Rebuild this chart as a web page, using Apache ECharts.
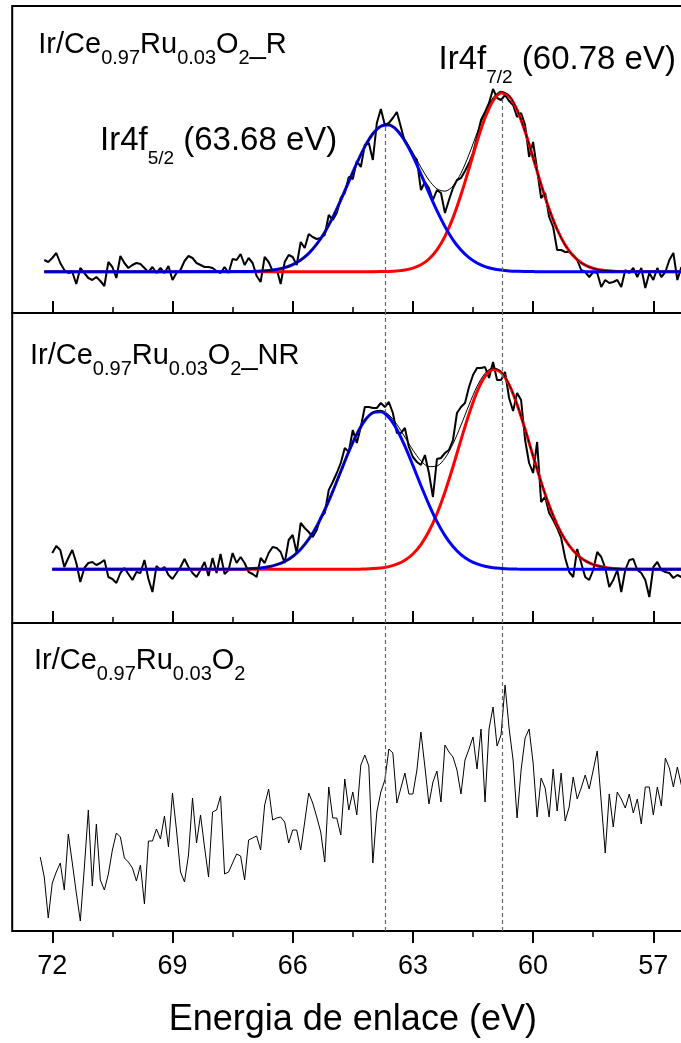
<!DOCTYPE html>
<html>
<head>
<meta charset="utf-8">
<script src="https://cdn.jsdelivr.net/npm/echarts@6/dist/echarts.min.js"></script>
<style>
  html, body { margin: 0; padding: 0; background: #fff; overflow: hidden; }
  /* the frames run past the right edge of the page, so the canvas is wider than the view */
  #chart { width: 700px; height: 1043px; }
</style>
</head>
<body>
<div id="chart"></div>
<script>
// Binding energy grid of the measured spectra (eV), 0.1 eV steps
const energy = [
  72.3,72.2,72.1,72.0,71.9,71.8,71.7,71.6,71.5,71.4,
  71.3,71.2,71.1,71.0,70.9,70.8,70.7,70.6,70.5,70.4,
  70.3,70.2,70.1,70.0,69.9,69.8,69.7,69.6,69.5,69.4,
  69.3,69.2,69.1,69.0,68.9,68.8,68.7,68.6,68.5,68.4,
  68.3,68.2,68.1,68.0,67.9,67.8,67.7,67.6,67.5,67.4,
  67.3,67.2,67.1,67.0,66.9,66.8,66.7,66.6,66.5,66.4,
  66.3,66.2,66.1,66.0,65.9,65.8,65.7,65.6,65.5,65.4,
  65.3,65.2,65.1,65.0,64.9,64.8,64.7,64.6,64.5,64.4,
  64.3,64.2,64.1,64.0,63.9,63.8,63.7,63.6,63.5,63.4,
  63.3,63.2,63.1,63.0,62.9,62.8,62.7,62.6,62.5,62.4,
  62.3,62.2,62.1,62.0,61.9,61.8,61.7,61.6,61.5,61.4,
  61.3,61.2,61.1,61.0,60.9,60.8,60.7,60.6,60.5,60.4,
  60.3,60.2,60.1,60.0,59.9,59.8,59.7,59.6,59.5,59.4,
  59.3,59.2,59.1,59.0,58.9,58.8,58.7,58.6,58.5,58.4,
  58.3,58.2,58.1,58.0,57.9,57.8,57.7,57.6,57.5,57.4,
  57.3,57.2,57.1,57.0,56.9,56.8,56.7,56.6,56.5,56.4,
  56.3
];

// Ir 4f intensity (a.u.), reduced sample
const spectrumR = [
  null,53,51,55,60,50,43,40,41,29,
  45,40,35,33,36,32,27,51,46,35,
  57,50,45,48,50,49,45,41,46,40,
  45,40,47,33,40,43,52,57,55,50,
  48,46,46,45,42,40,46,40,54,53,
  59,48,55,50,37,31,56,51,42,44,
  29,51,58,56,48,71,65,79,76,74,
  75,78,98,93,100,115,120,136,134,152,
  146,168,170,153,190,204,188,190,195,201,
  186,171,165,158,153,123,131,125,113,123,
  120,100,113,125,133,135,142,150,160,176,
  193,201,210,224,215,213,218,212,208,196,
  200,188,156,171,143,115,120,96,86,63,
  63,61,61,58,53,43,41,36,41,40,
  26,33,30,31,33,26,43,40,45,36,
  45,25,40,33,45,36,41,53,60,33,
  46
];

// Ir 4f intensity (a.u.), non-reduced sample
const spectrumNR = [
  null,null,null,70,77,73,56,65,73,60,
  41,55,60,61,58,60,63,46,44,40,
  50,55,49,43,51,50,63,44,31,57,
  53,56,48,44,50,56,64,56,50,46,
  53,61,47,65,50,69,49,53,70,60,
  66,60,51,49,46,65,60,70,76,75,
  71,60,83,88,70,100,95,91,86,93,
  106,110,133,141,150,160,175,171,193,180,
  196,216,216,215,215,220,216,221,210,190,
  190,195,176,166,161,158,168,150,126,164,
  165,170,173,183,210,216,220,236,248,255,
  255,256,245,261,243,243,251,225,212,230,
  223,183,160,150,181,121,126,110,103,95,
  85,65,51,46,74,60,46,43,53,71,
  66,55,36,43,53,31,53,63,64,53,
  50,43,26,56,61,53,51,50,45,48,
  46
];

// Ir 4f intensity (a.u.), fresh sample
const spectrumFresh = [
  74,54,13,48,59,68,41,97,68,38,
  10,63,121,45,107,51,41,57,81,98,
  94,73,69,63,50,66,27,90,90,102,
  92,115,84,138,101,59,49,76,133,88,
  116,84,54,119,121,135,57,59,68,77,
  75,51,91,93,95,81,126,142,111,113,
  114,109,88,101,101,81,109,138,128,114,
  99,69,144,113,113,96,152,121,139,116,
  166,176,165,68,119,139,151,182,178,128,
  143,158,137,137,161,199,164,127,149,160,
  129,186,179,174,161,137,171,182,194,162,
  202,129,202,224,185,196,246,203,171,113,
  161,193,202,168,114,153,143,114,162,120,
  158,110,124,154,132,143,156,142,161,180,
  129,78,137,104,139,132,123,137,118,132,
  107,144,144,116,144,125,173,163,144,164,
  146
];

// Energies at which the fitted components are tabulated
const fitEnergyR = [72.2,
  67.2,67.0,66.8,66.6,66.4,66.2,66.0,65.8,65.6,65.4,65.2,65.0,64.8,64.6,64.4,64.2,
  64.0,63.8,63.6,63.4,63.2,63.0,62.8,62.6,62.4,62.2,62.0,61.8,61.6,61.4,61.2,61.0,
  60.8,60.6,60.4,60.2,60.0,59.8,59.6,59.4,59.2,59.0,58.8,58.6,58.4,58.2,58.0,57.8,
  56.0];
const fitEnergyNR = [72.0,
  67.2,67.0,66.8,66.6,66.4,66.2,66.0,65.8,65.6,65.4,65.2,65.0,64.8,64.6,64.4,64.2,
  64.0,63.8,63.6,63.4,63.2,63.0,62.8,62.6,62.4,62.2,62.0,61.8,61.6,61.4,61.2,61.0,
  60.8,60.6,60.4,60.2,60.0,59.8,59.6,59.4,59.2,59.0,58.8,58.6,58.4,58.2,58.0,57.8,
  56.0];

// Fitted Ir4f5/2 and Ir4f7/2 components and their sum, reduced sample
const f52R = [41.3,
  41.4,41.6,41.9,42.5,43.6,45.4,48.4,52.9,59.6,68.8,80.8,95.6,112.9,131.4,149.8,166.4,
  179.2,186.7,188.0,182.9,172.0,156.8,138.9,120.2,102.3,86.4,73.2,62.9,55.3,50.0,46.4,44.2,
  42.9,42.1,41.7,41.5,41.4,41.3,41.3,41.3,41.3,41.3,41.3,41.3,41.3,41.3,41.3,41.3,
  41.3];
const f72R = [41.3,
  41.3,41.3,41.3,41.3,41.3,41.3,41.3,41.3,41.3,41.3,41.3,41.3,41.3,41.3,41.3,41.3,
  41.3,41.4,41.6,42.1,43.0,44.9,48.2,54.0,63.2,76.7,95.1,118.2,144.4,171.3,195.2,212.4,
  220.1,216.8,203.1,181.4,155.3,128.4,103.9,83.5,68.0,57.2,50.2,46.0,43.6,42.4,41.8,41.5,
  41.3];
const envR = [41.3,
  41.4,41.6,41.9,42.5,43.6,45.4,48.4,52.9,59.6,68.8,80.8,95.6,112.9,131.4,149.8,166.4,
  179.2,186.8,188.3,183.7,173.7,160.4,145.8,132.9,124.2,121.8,127.0,139.8,158.4,180.0,200.3,215.3,
  221.7,217.6,203.5,181.6,155.4,128.4,103.9,83.5,68.0,57.2,50.2,46.0,43.6,42.4,41.8,41.5,
  41.3];

// Fitted components and their sum, non-reduced sample
const f52NR = [53.7,
  54.0,54.4,55.1,56.2,58.3,61.5,66.5,73.8,83.8,96.9,113.0,131.6,151.5,171.3,188.9,202.5,
  210.2,211.3,205.4,193.5,176.9,157.6,137.5,118.4,101.4,87.4,76.5,68.4,62.8,59.1,56.7,55.3,
  54.6,54.1,53.9,53.8,53.7,53.7,53.7,53.7,53.7,53.7,53.7,53.7,53.7,53.7,53.7,53.7,
  53.7];
const f72NR = [53.7,
  53.7,53.7,53.7,53.7,53.7,53.7,53.7,53.7,53.7,53.7,53.7,53.7,53.7,53.7,53.7,54.0,
  54.4,55.1,56.4,58.8,62.7,69.0,78.4,91.7,109.3,131.1,156.3,183.1,209.0,231.2,246.7,253.5,
  250.6,238.3,218.5,193.7,166.9,140.9,117.6,98.2,83.3,72.4,64.9,60.1,57.2,55.5,54.6,54.1,
  53.7];
const envNR = [53.7,
  54.0,54.4,55.1,56.2,58.3,61.5,66.5,73.8,83.8,96.9,113.0,131.6,151.5,171.3,188.9,202.8,
  210.9,212.7,208.1,198.6,185.9,172.9,162.2,156.4,157.0,164.8,179.1,197.8,218.1,236.6,249.7,255.1,
  251.5,238.7,218.7,193.8,166.9,140.9,117.6,98.2,83.3,72.4,64.9,60.1,57.2,55.5,54.6,54.1,
  53.7];

// Axis ticks (eV)
const majorTicks = [72, 69, 66, 63, 60, 57];
const minorTicks = [70.5, 67.5, 64.5, 61.5, 58.5];

// Peak positions marked by dashed guides, and where the guides stop in the top panel
const peakEnergies = [63.68, 60.78];
const guideTopR = [186, 217];

const FONT = 'Arial, "Liberation Sans", Helvetica, sans-serif';

function pairs(xs, ys) {
  const out = [];
  for (let i = 0; i < xs.length; i++) {
    if (ys[i] !== null && ys[i] !== undefined) out.push([xs[i], ys[i]]);
  }
  return out;
}

// Panel layout: three stacked frames sharing the energy axis
const panels = [
  { top: 6, height: 307 },
  { top: 313, height: 310 },
  { top: 623, height: 308 }
];
const AXIS_MIN = 56, AXIS_MAX = 73;
const PLOT_LEFT = 12.2, PLOT_WIDTH = 681.2;

const grids = panels.map(p => ({
  left: PLOT_LEFT, width: PLOT_WIDTH, top: p.top, height: p.height,
  show: true, borderColor: '#000', borderWidth: 2, backgroundColor: 'transparent'
}));

const xAxes = [];
panels.forEach((p, g) => {
  const last = g === panels.length - 1;
  xAxes.push({
    type: 'value', gridIndex: g, min: AXIS_MIN, max: AXIS_MAX, inverse: true, position: 'bottom',
    axisLine: { show: false }, splitLine: { show: false },
    axisTick: { show: true, inside: !last, length: 12, customValues: majorTicks,
                lineStyle: { color: '#000', width: 2 } },
    axisLabel: { show: last, customValues: majorTicks, margin: 22,
                 fontFamily: FONT, fontSize: 27, color: '#000' },
    name: last ? 'Energia de enlace (eV)' : '',
    nameLocation: 'middle', nameGap: 71,
    nameTextStyle: { fontFamily: FONT, fontSize: 36, color: '#000' }
  });
  xAxes.push({
    type: 'value', gridIndex: g, min: AXIS_MIN, max: AXIS_MAX, inverse: true, position: 'bottom',
    axisLine: { show: false }, splitLine: { show: false },
    axisTick: { show: true, inside: !last, length: 6, customValues: minorTicks,
                lineStyle: { color: '#000', width: 1.5 } },
    axisLabel: { show: false }
  });
});

const yAxes = panels.map((p, g) => ({
  type: 'value', gridIndex: g, min: 0, max: p.height, show: false
}));

const guideStyle = { color: '#666', width: 1.2, type: [4, 3] };

function lineSeries(g, data, color, width, extra) {
  return Object.assign({
    type: 'line', xAxisIndex: 2 * g, yAxisIndex: g, data: data,
    showSymbol: false, symbol: 'none', silent: true,
    lineStyle: { color: color, width: width }, emphasis: { disabled: true }
  }, extra || {});
}

const FIT_WIDTH = 3;

const series = [
  // top panel: reduced
  lineSeries(0, pairs(energy, spectrumR), '#000', 2, {
    markLine: {
      silent: true, symbol: 'none', label: { show: false }, lineStyle: guideStyle,
      data: peakEnergies.map((e, i) => [{ coord: [e, 0] }, { coord: [e, guideTopR[i]] }])
    }
  }),
  lineSeries(0, pairs(fitEnergyR, f72R), '#ff0000', FIT_WIDTH, { smooth: 0.3 }),
  lineSeries(0, pairs(fitEnergyR, f52R), '#0000ff', FIT_WIDTH, { smooth: 0.3 }),
  lineSeries(0, pairs(fitEnergyR, envR), '#000', 1, { smooth: 0.3 }),
  // middle panel: non-reduced
  lineSeries(1, pairs(energy, spectrumNR), '#000', 2, {
    markLine: {
      silent: true, symbol: 'none', label: { show: false }, lineStyle: guideStyle,
      data: peakEnergies.map(e => ({ xAxis: e }))
    }
  }),
  lineSeries(1, pairs(fitEnergyNR, f72NR), '#ff0000', FIT_WIDTH, { smooth: 0.3 }),
  lineSeries(1, pairs(fitEnergyNR, f52NR), '#0000ff', FIT_WIDTH, { smooth: 0.3 }),
  lineSeries(1, pairs(fitEnergyNR, envNR), '#000', 1, { smooth: 0.3 }),
  // bottom panel: fresh sample
  lineSeries(2, pairs(energy, spectrumFresh), '#000', 1, {
    markLine: {
      silent: true, symbol: 'none', label: { show: false }, lineStyle: guideStyle,
      data: peakEnergies.map(e => ({ xAxis: e }))
    }
  })
];

// Rich-text styles for labels with subscripts
const titleRich = {
  m: { fontFamily: FONT, fontSize: 29, lineHeight: 29, color: '#000', verticalAlign: 'top' },
  s: { fontFamily: FONT, fontSize: 20, lineHeight: 20, color: '#000', verticalAlign: 'top', padding: [18, 0, 0, 0] }
};
const peakRich = {
  m: { fontFamily: FONT, fontSize: 33, lineHeight: 33, color: '#000', verticalAlign: 'top' },
  s: { fontFamily: FONT, fontSize: 19, lineHeight: 19, color: '#000', verticalAlign: 'top', padding: [25, 0, 0, 0] }
};

function richText(x, y, text, rich) {
  return { type: 'text', x: x, y: y, silent: true,
           style: { text: text, rich: rich, align: 'left', verticalAlign: 'top' } };
}

const graphic = [
  richText(38.3, 30.8, '{m|Ir/Ce}{s|0.97}{m|Ru}{s|0.03}{m|O}{s|2}{m|_R}', titleRich),
  richText(30, 341.5, '{m|Ir/Ce}{s|0.97}{m|Ru}{s|0.03}{m|O}{s|2}{m|_NR}', titleRich),
  richText(34, 646.5, '{m|Ir/Ce}{s|0.97}{m|Ru}{s|0.03}{m|O}{s|2}', titleRich),
  richText(100, 124.2, '{m|Ir4f}{s|5/2}{m| (63.68 eV)}', peakRich),
  richText(438.6, 43.5, '{m|Ir4f}{s|7/2}{m| (60.78 eV)}', peakRich)
];

const chart = echarts.init(document.getElementById('chart'), null, { renderer: 'canvas' });
chart.setOption({
  animation: false,
  backgroundColor: '#fff',
  grid: grids,
  xAxis: xAxes,
  yAxis: yAxes,
  series: series,
  graphic: graphic
});
</script>
</body>
</html>
